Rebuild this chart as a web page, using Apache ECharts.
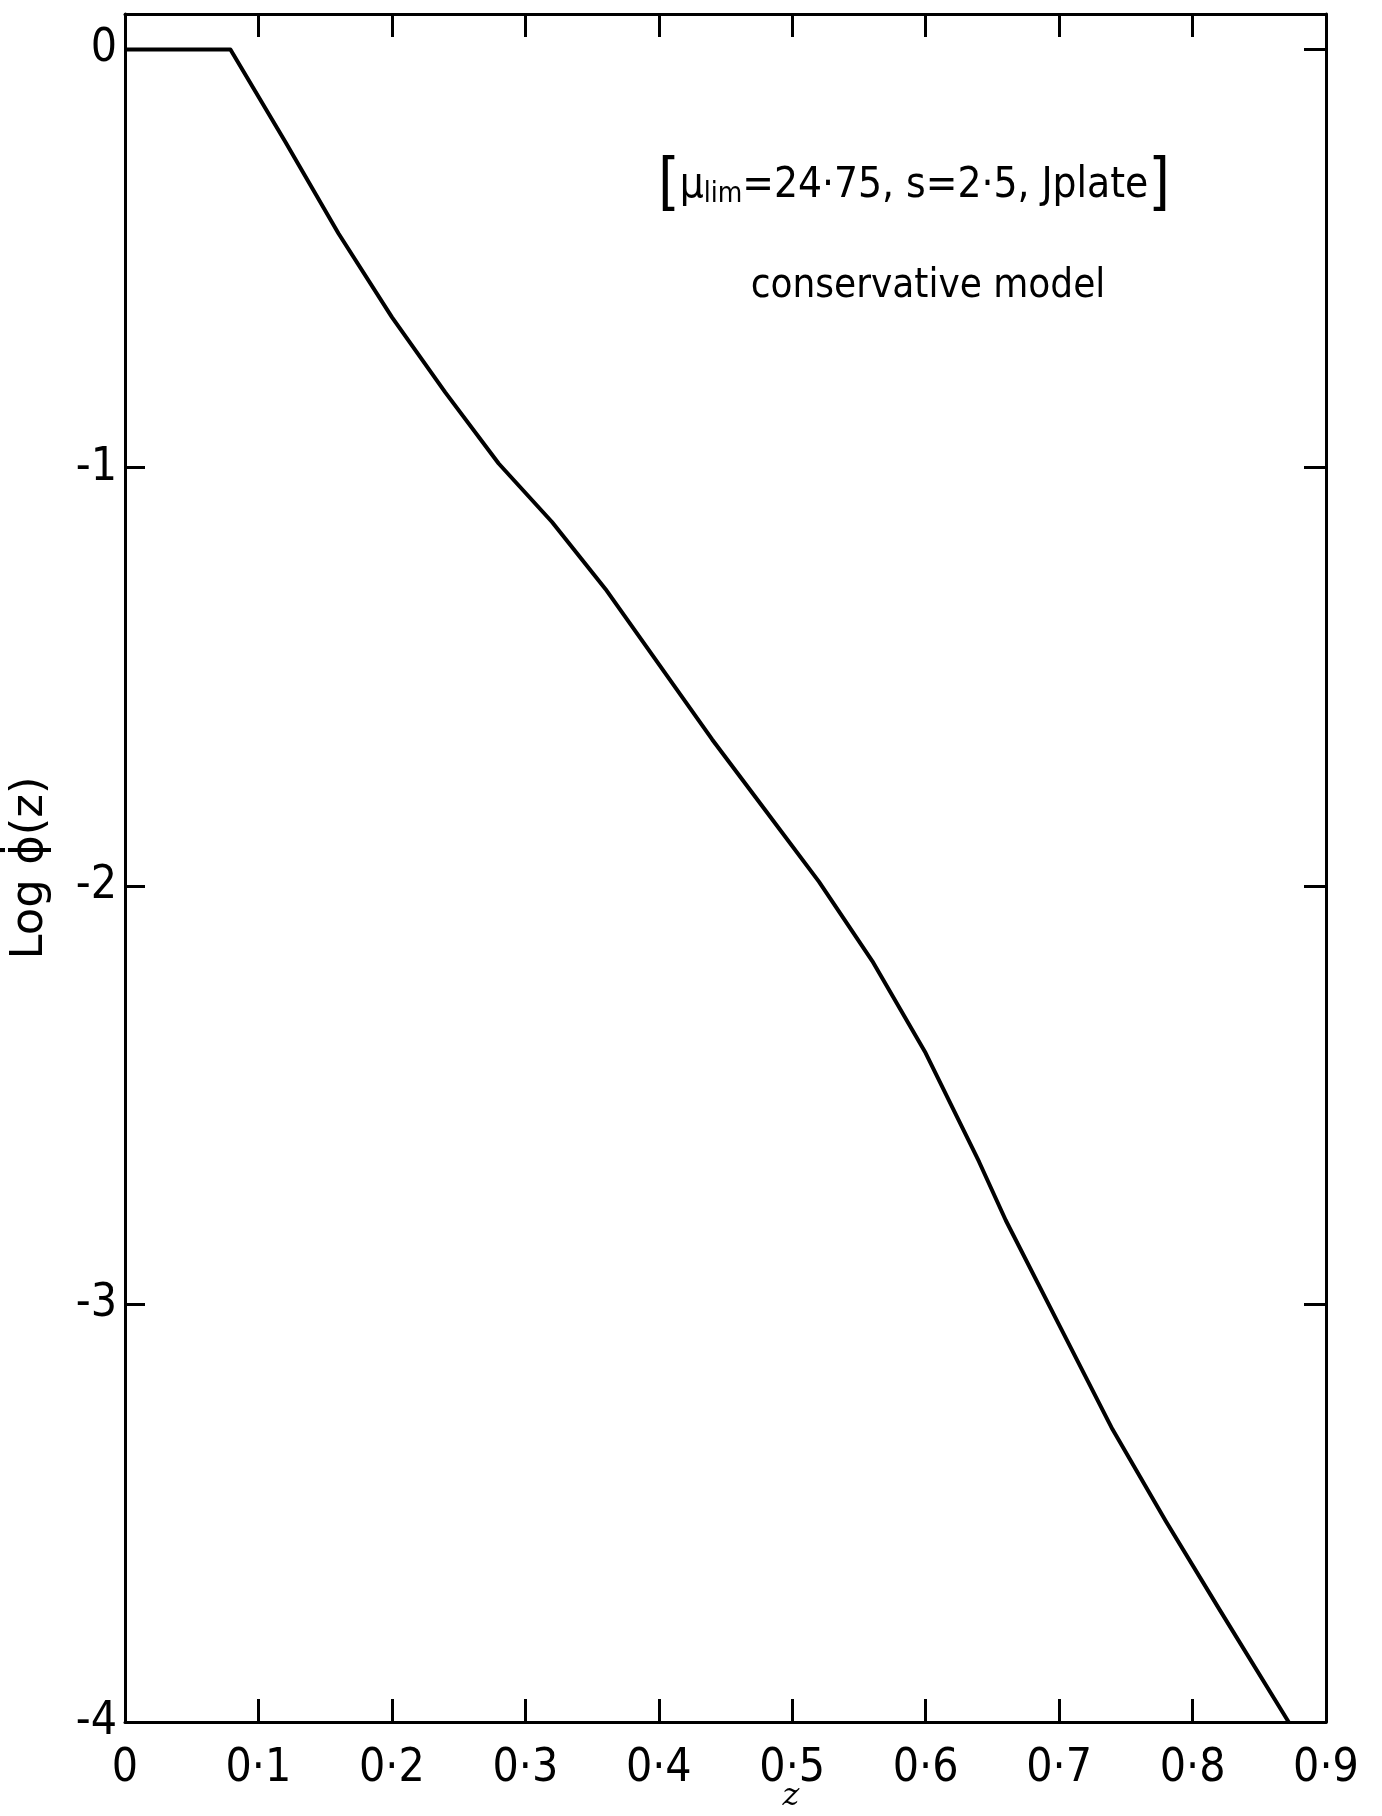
<!DOCTYPE html>
<html>
<head>
<meta charset="utf-8">
<script src="https://cdn.jsdelivr.net/npm/echarts@6/dist/echarts.min.js"></script>
<style>html,body{margin:0;padding:0;background:#fff;}#c{width:1382px;height:1816px;}</style>
</head>
<body>
<div id="c"></div>
<script>
// ---- data ----
const zValues = [0, 0.079, 0.12, 0.16, 0.20, 0.24, 0.28, 0.32, 0.36, 0.40, 0.44, 0.48, 0.52, 0.56, 0.60, 0.64, 0.66, 0.70, 0.74, 0.78, 0.82, 0.872];
const logPhi = [0, 0, -0.22, -0.44, -0.64, -0.82, -0.99, -1.13, -1.29, -1.47, -1.65, -1.82, -1.99, -2.18, -2.40, -2.66, -2.80, -3.05, -3.30, -3.52, -3.73, -4.0];
const xTickLabels = ['0', '0·1', '0·2', '0·3', '0·4', '0·5', '0·6', '0·7', '0·8', '0·9'];
const yTickLabels = {'0': '0', '-1': '-1', '-2': '-2', '-3': '-3', '-4': '-4'};
const annotationLine1 = 'μ';
const annotationSub = 'lim';
const annotationRest = '=24·75, s=2·5, Jplate';
const annotationLine2 = 'conservative model';
const xName = 'z';
const yName = 'Log ϕ̇(z)';

const FONT = '"Liberation Sans Narrow", "DejaVu Sans Condensed", "Liberation Sans", sans-serif';
const seriesData = zValues.map((z, i) => [z, logPhi[i]]);

const chart = echarts.init(document.getElementById('c'), null, {renderer: 'canvas'});
const axisLine = {show: true, onZero: false, lineStyle: {color: '#000', width: 3}};
chart.setOption({
  backgroundColor: '#fff',
  animation: false,
  grid: {left: 125, right: 56, top: 14, bottom: 94, containLabel: false, outerBoundsMode: 'none'},
  title: [
    {
      left: 909, top: 150, textAlign: 'center',
      text: '{b|[}{m|' + annotationLine1 + '}{s|' + annotationSub + '}{m|' + annotationRest + '}{b|]}',
      textStyle: {
        rich: {
          b: {fontSize: 62, fontFamily: FONT, color: '#000', fontWeight: 'normal'},
          m: {fontSize: 42, fontFamily: FONT, color: '#000', fontWeight: 'normal'},
          s: {fontSize: 28, fontFamily: FONT, color: '#000', fontWeight: 'normal', padding: [18, 0, 0, 0]}
        }
      }
    },
    {
      left: 923, top: 262, textAlign: 'center',
      text: annotationLine2,
      textStyle: {fontSize: 40, fontFamily: FONT, color: '#000', fontWeight: 'normal'}
    },
    {
      left: 791, top: 1781, textAlign: 'center', padding: 0,
      text: xName,
      textStyle: {fontSize: 32, fontFamily: 'DejaVu Serif, serif', fontStyle: 'italic', fontWeight: 'normal', color: '#000'}
    }
  ],
  xAxis: [
    {
      type: 'value', position: 'bottom', min: 0, max: 0.9, interval: 0.1,
      axisLine: axisLine,
      axisTick: {show: true, inside: true, length: 23, lineStyle: {color: '#000', width: 3}},
      axisLabel: {
        fontSize: 46, fontFamily: FONT, color: '#000', margin: 24,
        formatter: v => xTickLabels[Math.round(v * 10)] || ''
      },
      splitLine: {show: false}
    },
    {
      type: 'value', position: 'top', min: 0, max: 0.9, interval: 0.1,
      axisLine: axisLine,
      axisTick: {show: true, inside: true, length: 23, lineStyle: {color: '#000', width: 3}},
      axisLabel: {show: false},
      splitLine: {show: false}
    }
  ],
  yAxis: [
    {
      type: 'value', position: 'left', min: -4, max: 0.085, interval: 1,
      name: yName, nameLocation: 'middle', nameGap: 72, nameRotate: 90,
      nameTextStyle: {fontSize: 45, fontFamily: '"DejaVu Sans", sans-serif', color: '#000'},
      axisLine: axisLine,
      axisTick: {show: true, inside: true, length: 20, lineStyle: {color: '#000', width: 3}},
      axisLabel: {
        fontSize: 46, fontFamily: FONT, color: '#000', margin: 8,
        formatter: v => {
          const k = String(Math.round(v));
          return Math.abs(v - Math.round(v)) < 1e-6 ? (yTickLabels[k] || '') : '';
        }
      },
      splitLine: {show: false}
    },
    {
      type: 'value', position: 'right', min: -4, max: 0.085, interval: 1,
      axisLine: axisLine,
      axisTick: {show: true, inside: true, length: 22, lineStyle: {color: '#000', width: 3}},
      axisLabel: {show: false},
      splitLine: {show: false}
    }
  ],
  series: [
    {
      type: 'line', xAxisIndex: 0, yAxisIndex: 0,
      data: seriesData, smooth: false, showSymbol: false,
      lineStyle: {color: '#000', width: 4, join: 'round'}
    }
  ]
});
</script>
</body>
</html>
